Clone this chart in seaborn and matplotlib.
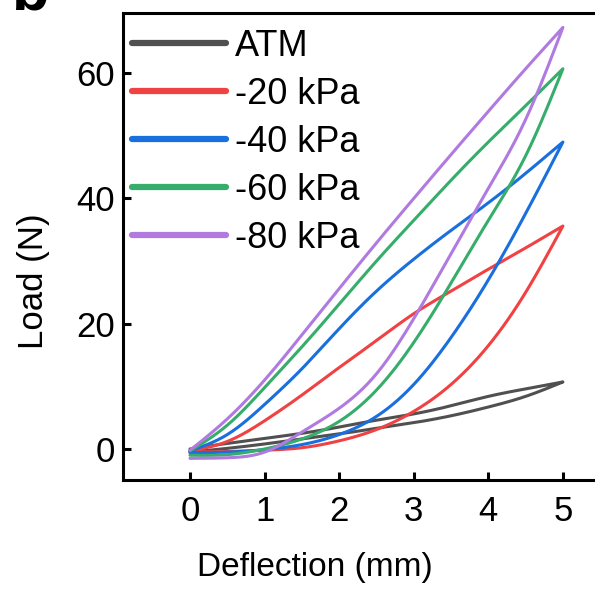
import matplotlib
matplotlib.use("Agg")
import matplotlib.pyplot as plt
from matplotlib.lines import Line2D
import seaborn as sns
import numpy as np
import pandas as pd

sns.set_theme(style="ticks")
plt.rcParams["font.family"] = ["Liberation Sans", "DejaVu Sans"]
plt.rcParams["text.color"] = "black"
plt.rcParams["axes.labelcolor"] = "black"

# Deflection grid (mm) shared by all branches
deflection = [0.0, 0.5, 1.0, 1.5, 2.0, 2.5, 3.0, 3.5, 4.0, 4.5, 5.0]

# Load (N): upper and lower branch of each hysteresis loop
atm_upper = [0.0, 0.9, 1.7, 2.5, 3.5, 4.6, 5.6, 6.9, 8.4, 9.6, 10.7]
atm_lower = [-0.5, 0.1, 0.8, 1.6, 2.4, 3.3, 4.2, 5.3, 6.7, 8.4, 10.7]

kpa20_upper = [-0.3, 1.2, 4.5, 8.6, 13.0, 17.3, 21.6, 25.2, 28.7, 32.1, 35.6]
kpa20_lower = [-0.5, -0.4, -0.2, 0.2, 1.3, 3.1, 6.0, 10.3, 16.5, 25.0, 35.6]

kpa40_upper = [-0.3, 2.3, 7.1, 12.8, 19.2, 25.2, 30.3, 34.9, 39.3, 44.0, 49.0]
kpa40_lower = [-0.6, -0.5, -0.1, 0.7, 2.3, 5.2, 10.3, 17.8, 27.0, 37.6, 49.0]

kpa60_upper = [-0.3, 3.8, 9.8, 16.3, 23.1, 30.0, 36.5, 42.9, 49.0, 54.8, 60.7]
kpa60_lower = [-1.0, -0.9, 0.0, 1.6, 4.4, 9.4, 17.0, 26.5, 36.5, 46.8, 60.7]

kpa80_upper = [-0.2, 4.8, 11.0, 18.2, 25.6, 32.9, 40.0, 47.0, 53.9, 60.7, 67.3]
kpa80_lower = [-1.5, -1.4, -0.5, 2.7, 6.5, 12.0, 20.8, 31.2, 41.6, 52.6, 67.3]

labels = ["ATM", "-20 kPa", "-40 kPa", "-60 kPa", "-80 kPa"]
colors = ["#505050", "#F04242", "#1A6FDF", "#37AD6B", "#B07AE0"]
loops = [
    (atm_upper, atm_lower),
    (kpa20_upper, kpa20_lower),
    (kpa40_upper, kpa40_lower),
    (kpa60_upper, kpa60_lower),
    (kpa80_upper, kpa80_lower),
]


def spline(xs, ys, n=150):
    """Natural cubic spline through the given points, for a smooth trace."""
    xs = np.asarray(xs, float)
    ys = np.asarray(ys, float)
    k = len(xs)
    h = np.diff(xs)
    A = np.zeros((k, k))
    b = np.zeros(k)
    A[0, 0] = A[-1, -1] = 1.0
    for i in range(1, k - 1):
        A[i, i - 1] = h[i - 1]
        A[i, i] = 2 * (h[i - 1] + h[i])
        A[i, i + 1] = h[i]
        b[i] = 6 * ((ys[i + 1] - ys[i]) / h[i] - (ys[i] - ys[i - 1]) / h[i - 1])
    M = np.linalg.solve(A, b)
    xx = np.linspace(xs[0], xs[-1], n)
    idx = np.clip(np.searchsorted(xs, xx, side="right") - 1, 0, k - 2)
    x0, x1 = xs[idx], xs[idx + 1]
    hh = x1 - x0
    yy = (M[idx] * (x1 - xx) ** 3 / (6 * hh) + M[idx + 1] * (xx - x0) ** 3 / (6 * hh)
          + (ys[idx] / hh - M[idx] * hh / 6) * (x1 - xx)
          + (ys[idx + 1] / hh - M[idx + 1] * hh / 6) * (xx - x0))
    return xx, yy


frames = []
for lab, (upper, lower) in zip(labels, loops):
    lx, ly = spline(deflection, lower)
    ux, uy = spline(deflection, upper)
    x = np.concatenate([lx, ux[::-1]])
    y = np.concatenate([ly, uy[::-1]])
    frames.append(pd.DataFrame({"Deflection": x, "Load": y, "Pressure": lab}))
df = pd.concat(frames, ignore_index=True)

fig = plt.figure(figsize=(5.95, 5.89), dpi=100)
ax_left, ax_right = 123 / 595, 1.0
ax = fig.add_axes([ax_left, 1 - 480 / 589, ax_right - ax_left, (480 - 13) / 589])

sns.lineplot(data=df, x="Deflection", y="Load", hue="Pressure", hue_order=labels,
             palette=colors, sort=False, units="Pressure", estimator=None,
             linewidth=2.2, ax=ax, legend=False)

ax.set_xlim(-0.898, 5.43)
ax.set_ylim(-4.95, 69.6)
ax.set_xticks([0, 1, 2, 3, 4, 5])
ax.set_yticks([0, 20, 40, 60])

for side in ["left", "bottom", "top"]:
    ax.spines[side].set_linewidth(2.2)
    ax.spines[side].set_color("black")
ax.spines["right"].set_visible(False)
ax.tick_params(direction="in", length=6, width=2.2, labelsize=25, colors="black")
ax.tick_params(axis="x", pad=11)
ax.tick_params(axis="y", pad=5.5)

ax.set_xlabel("Deflection (mm)", fontsize=24, color="black")
ax.set_ylabel("Load (N)", fontsize=25, color="black")
ax.xaxis.set_label_coords((315 - 123) / 472, -0.155)
ax.yaxis.set_label_coords((50 - 123) / 472, 0.425)

handles = [Line2D([], [], color=c, lw=4.5, solid_capstyle="round") for c in colors]
leg = ax.legend(handles, labels, loc="upper left", bbox_to_anchor=(-0.026, 1.012),
                frameon=False, fontsize=26, handlelength=2.58, handletextpad=0.25,
                labelspacing=0.36, borderaxespad=0.2)
for t in leg.get_texts():
    t.set_color("black")

fig.text(12 / 595, 1 - 9 / 589, "b", fontsize=44, fontweight="bold", va="baseline",
         ha="left", color="black")

fig.savefig("out.png", dpi=100)
